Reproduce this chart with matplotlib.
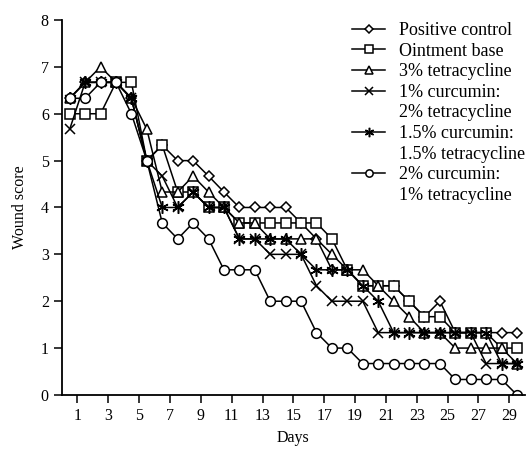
import numpy as np
import matplotlib
matplotlib.use("Agg")
import matplotlib.pyplot as plt
from matplotlib.lines import Line2D

plt.rcParams['font.family'] = ['Liberation Serif', 'DejaVu Serif']

# day index 1..30, drawn half a day before the tick of the same number
days = np.arange(1, 31)

positive_control = [6.33, 6.67, 6.67, 6.67, 6.33, 5.0, 5.33, 5.0, 5.0, 4.67,
                    4.33, 4.0, 4.0, 4.0, 4.0, 3.67, 3.33, 2.67, 2.67, 2.33,
                    2.33, 2.33, 2.0, 1.67, 2.0, 1.33, 1.33, 1.33, 1.33, 1.33]
ointment_base = [6.0, 6.0, 6.0, 6.67, 6.67, 5.0, 5.33, 4.33, 4.33, 4.0,
                 4.0, 3.67, 3.67, 3.67, 3.67, 3.67, 3.67, 3.33, 2.67, 2.33,
                 2.33, 2.33, 2.0, 1.67, 1.67, 1.33, 1.33, 1.33, 1.0, 1.0]
tetra_3 = [6.33, 6.67, 7.0, 6.67, 6.33, 5.67, 4.33, 4.33, 4.67, 4.33,
           4.0, 3.67, 3.67, 3.33, 3.33, 3.33, 3.33, 3.0, 2.67, 2.67,
           2.33, 2.0, 1.67, 1.33, 1.33, 1.0, 1.0, 1.0, 1.0, 0.67]
curc_1 = [5.67, 6.67, 6.67, 6.67, 6.33, 5.0, 4.67, 4.0, 4.33, 4.0,
          4.0, 3.33, 3.33, 3.0, 3.0, 3.0, 2.33, 2.0, 2.0, 2.0,
          1.33, 1.33, 1.33, 1.33, 1.33, 1.33, 1.33, 0.67, 0.67, 0.67]
curc_15 = [6.33, 6.67, 6.67, 6.67, 6.33, 5.0, 4.0, 4.0, 4.33, 4.0,
           4.0, 3.33, 3.33, 3.33, 3.33, 3.0, 2.67, 2.67, 2.67, 2.33,
           2.0, 1.33, 1.33, 1.33, 1.33, 1.33, 1.33, 1.33, 0.67, 0.67]
curc_2 = [6.33, 6.33, 6.67, 6.67, 6.0, 5.0, 3.67, 3.33, 3.67, 3.33,
          2.67, 2.67, 2.67, 2.0, 2.0, 2.0, 1.33, 1.0, 1.0, 0.67,
          0.67, 0.67, 0.67, 0.67, 0.67, 0.33, 0.33, 0.33, 0.33, 0.0]

labels = ['Positive control', 'Ointment base', '3% tetracycline',
          '1% curcumin:\n2% tetracycline', '1.5% curcumin:\n1.5% tetracycline',
          '2% curcumin:\n1% tetracycline']
markers = ['D', 's', '^', 'x', (6, 2, 0), 'o']
sizes = [5, 7, 7, 7, 9, 7]
tick_days = np.arange(1, 30, 2)

fig = plt.figure(figsize=(5.3, 4.55), dpi=100)
ax = fig.add_axes([0.117, 0.132, 0.873, 0.824])

series = [positive_control, ointment_base, tetra_3, curc_1, curc_15, curc_2]
handles, texts = [], []
for vals, lab, mk, ms in zip(series, labels, markers, sizes):
    line, = ax.plot(days - 0.5, vals, color='black', lw=1.1, marker=mk, ms=ms,
                    mfc='white', mec='black', mew=1.1)
    # legend marker sits on the first line of a two-line label
    parts = lab.split('\n')
    handles.append(line)
    texts.append(parts[0])
    for extra in parts[1:]:
        handles.append(Line2D([], [], linestyle='none', marker=None))
        texts.append(extra)

ax.set_xlim(0, 30)
ax.set_ylim(0, 8)
ax.set_xticks(tick_days)
ax.set_yticks(range(0, 9))
ax.tick_params(direction='out', length=6, width=1.1, labelsize=11.5, colors='black')
ax.spines['top'].set_visible(False)
ax.spines['right'].set_visible(False)
ax.spines['left'].set_linewidth(1.3)
ax.spines['bottom'].set_linewidth(1.3)
ax.set_xlabel('Days', fontsize=11.5, labelpad=4)
ax.set_ylabel('Wound score', fontsize=11.5, labelpad=9)

ax.legend(handles, texts, loc='upper left', bbox_to_anchor=(0.611, 1.014),
          frameon=False, fontsize=13, handlelength=1.85, handletextpad=0.75,
          labelspacing=0.2, borderaxespad=0, markerscale=0.75)

fig.savefig('out.png', dpi=100)
